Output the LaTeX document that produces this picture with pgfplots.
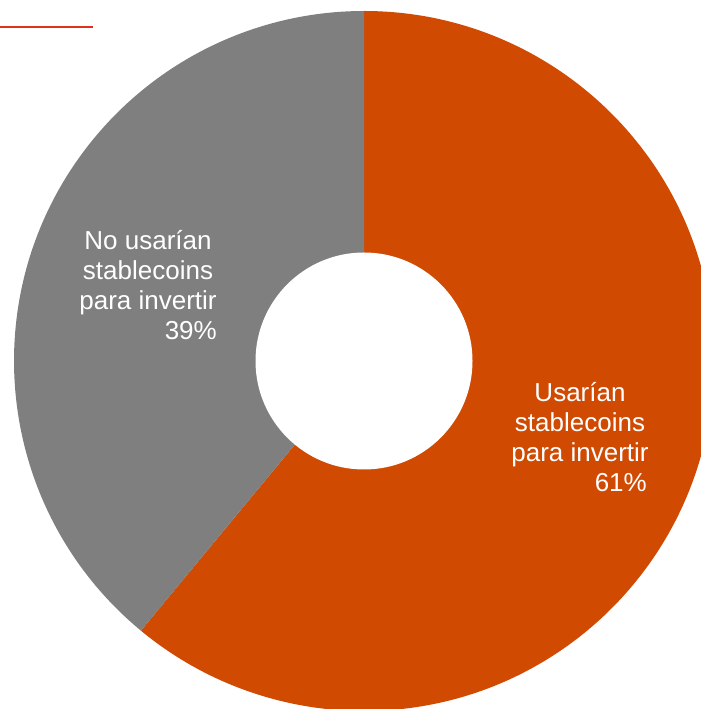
\documentclass[border=0pt]{standalone}
\usepackage{pgfplots}
\usepackage{pgfplotstable}
\pgfplotsset{compat=1.18}
\usepackage{fontspec}
\setmainfont{Liberation Sans}
\definecolor{pwcorange}{HTML}{D04A02}
\definecolor{pwcgray}{HTML}{7F7F7F}
\definecolor{pwcred}{HTML}{E0301E}
\pgfplotstableread{
label value
Usarian 61
NoUsarian 39
}\datatable
\begin{document}
\begin{tikzpicture}
\pgfplotstablegetelem{0}{value}\of\datatable \let\vA\pgfplotsretval
\pgfplotstablegetelem{1}{value}\of\datatable \let\vB\pgfplotsretval
\pgfmathsetmacro{\aEnd}{90-\vA*3.6}
\pgfmathsetmacro{\bEnd}{\aEnd-\vB*3.6}
\begin{axis}[
  scale only axis, width=701bp, height=709bp,
  xmin=0, xmax=701, ymin=0, ymax=709,
  hide axis, clip=true,
]
\fill[pwcorange] (axis cs:364,348) -- ++(90:350bp) arc[start angle=90, end angle=\aEnd, radius=350bp] -- cycle;
\fill[pwcgray] (axis cs:364,348) -- ++(\aEnd:350bp) arc[start angle=\aEnd, end angle=\bEnd, radius=350bp] -- cycle;
\fill[white] (axis cs:364,348) circle[radius=108.5bp];
\draw[pwcred, line width=2bp] (axis cs:0,682) -- (axis cs:93,682);
\tikzset{lbl/.style={inner sep=0pt, text=white, font=\fontsize{26bp}{30.3bp}\selectfont}}
\node[lbl, anchor=base, align=center] at (axis cs:580,247.3) {Usarían\\stablecoins\\para invertir};
\node[lbl, anchor=base east] at (axis cs:647,217) {\vA\%};
\node[lbl, anchor=base, align=center] at (axis cs:148,399.3) {No usarían\\stablecoins\\para invertir};
\node[lbl, anchor=base east] at (axis cs:217,369) {\vB\%};
\end{axis}
\pgfresetboundingbox
\useasboundingbox (0,0) rectangle (701bp,709bp);
\end{tikzpicture}
\end{document}
